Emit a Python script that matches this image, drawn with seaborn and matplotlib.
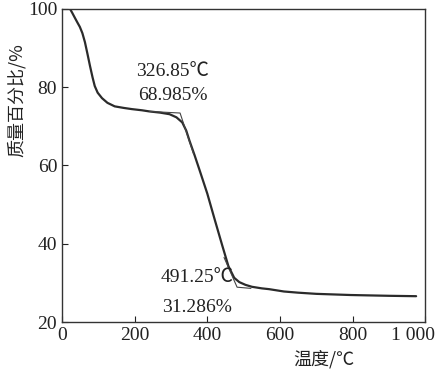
import numpy as np
import pandas as pd
import seaborn as sns
import matplotlib.pyplot as plt
import matplotlib.transforms as mtransforms

# TGA curve
temp = [22, 28, 36, 43, 49, 56, 63, 70, 77, 84, 90, 98, 110, 125, 145, 170,
        192, 220, 241, 270, 296, 315, 331, 342, 351, 365, 378, 400, 420, 441,
        458, 474, 488, 505, 523, 550, 570, 611, 650, 700, 795, 900, 975]
mass = [100.0, 99.0, 97.6, 96.4, 95.4, 93.8, 91.5, 88.5, 85.4, 82.5, 80.3,
        78.6, 77.2, 76.0, 75.1, 74.7, 74.4, 74.1, 73.8, 73.5, 73.1, 72.3,
        71.0, 68.9, 66.3, 62.6, 59.0, 52.8, 46.3, 39.6, 34.3, 31.3, 30.2,
        29.5, 29.0, 28.6, 28.4, 27.8, 27.5, 27.2, 26.9, 26.7, 26.6]

# tangent lines used for onset / end temperatures
tan1_x = [241, 325, 362]
tan1_y = [73.8, 73.4, 63.0]
tan2_x = [446, 482, 520]
tan2_y = [36.5, 28.9, 28.6]

x_ticks = [0, 200, 400, 600, 800, 1000]
x_ticklabels = ['0', '200', '400', '600', '800', '1 000']
y_ticks = [20, 40, 60, 80, 100]

sns.set_style('ticks')
plt.rcParams['font.family'] = ['Liberation Serif', 'Noto Sans CJK SC']

dpi = 100
fig = plt.figure(figsize=(437 / dpi, 371 / dpi), dpi=dpi)
ax = fig.add_axes([0.142, 0.132, 0.831, 0.844])

df = pd.DataFrame({'temp': temp, 'mass': mass})
sns.lineplot(data=df, x='temp', y='mass', color='#2b2b2b', linewidth=1.6, ax=ax)
sns.lineplot(x=tan1_x, y=tan1_y, color='#444444', linewidth=0.8, ax=ax)
sns.lineplot(x=tan2_x, y=tan2_y, color='#444444', linewidth=0.8, ax=ax)

ax.set_xlim(0, 1000)
ax.set_ylim(20, 100)
ax.set_xticks(x_ticks)
ax.set_xticklabels(x_ticklabels)
ax.set_yticks(y_ticks)
ax.tick_params(direction='in', length=4, width=0.8, labelsize=14, colors='#222222')
for s in ax.spines.values():
    s.set_visible(True)
    s.set_color('#333333')
    s.set_linewidth(1.0)

# pull the last tick label ("1 000") a bit left so it stays inside the figure
last = ax.get_xticklabels()[-1]
last.set_transform(last.get_transform() + mtransforms.ScaledTranslation(-0.12, 0, fig.dpi_scale_trans))

txt = dict(fontsize=14, color='#222222', ha='center', va='center',
           family=['Liberation Serif', 'Noto Sans CJK SC'])
ax.text(304, 84.1, '326.85℃', **txt)
ax.text(304, 78.0, '68.985%', **txt)
ax.text(372, 31.4, '491.25℃', **txt)
ax.text(372, 23.7, '31.286%', **txt)

ax.set_xlabel('温度/℃', fontsize=13, color='#222222',
              family=['Noto Sans CJK SC', 'Liberation Serif'])
ax.xaxis.set_label_coords(0.72, -0.09)
ax.set_ylabel('质量百分比/%', fontsize=13, color='#222222',
              family=['Noto Sans CJK SC', 'Liberation Serif'])
ax.yaxis.set_label_coords(-0.1, 0.71)

fig.savefig('out.png', dpi=dpi)
